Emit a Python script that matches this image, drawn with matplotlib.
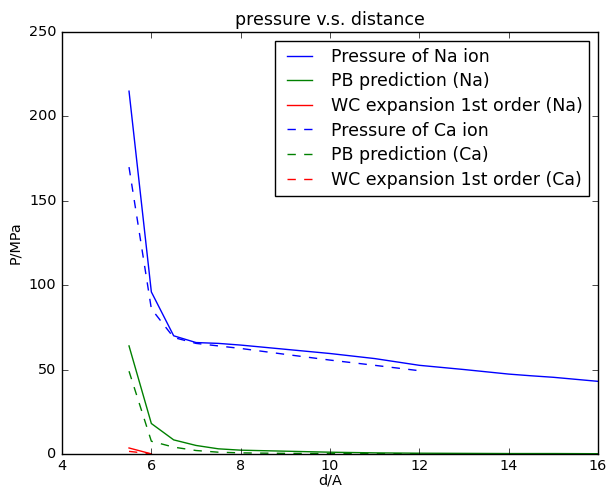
import matplotlib
matplotlib.use("Agg")
import matplotlib.pyplot as plt

plt.style.use('classic')

d_na = [5.5, 6, 6.5, 7, 7.5, 8, 9, 10, 11, 11.5, 12, 13, 14, 14.5, 15, 16]
p_na = [215, 96, 70, 66, 65.5, 64.5, 62, 59.5, 56.5, 54.5, 52.5, 50, 47.3, 46.3, 45.4, 43]
pb_na = [64, 18, 8.3, 5, 3, 2.2, 1.6, 1.0, 0.6, 0.5, 0.4, 0.3, 0.2, 0.2, 0.2, 0.1]
wc_na_d = [5.5, 6]
wc_na = [3.5, 0]

d_ca = [5.5, 6, 6.5, 7, 7.5, 8, 9, 10, 11, 12]
p_ca = [170, 86, 69, 65.5, 64, 62.5, 59, 55.6, 52.5, 49.3]
pb_ca = [49, 7.5, 4, 2, 1, 0.6, 0.3, 0.2, 0.1, 0.1]
wc_ca_d = [5.5, 6]
wc_ca = [1.5, 0]

fig = plt.figure(figsize=(6.08, 4.87), dpi=100)
ax = fig.add_axes([0.102, 0.068, 0.8816, 0.866])
ax.plot(d_na, p_na, 'b-', label='Pressure of Na ion')
ax.plot(d_na, pb_na, 'g-', label='PB prediction (Na)')
ax.plot(wc_na_d, wc_na, 'r-', label='WC expansion 1st order (Na)')
ax.plot(d_ca, p_ca, 'b--', label='Pressure of Ca ion')
ax.plot(d_ca, pb_ca, 'g--', label='PB prediction (Ca)')
ax.plot(wc_ca_d, wc_ca, 'r--', label='WC expansion 1st order (Ca)')
ax.set_xlim(4, 16)
ax.set_ylim(0, 250)
ax.set_xlabel('d/A', fontsize=10.4, labelpad=0)
ax.set_ylabel('P/MPa', fontsize=10.4)
ax.set_title('pressure v.s. distance', fontsize=12.5)
ax.tick_params(labelsize=10.4)
ax.legend(loc='upper right', fontsize=12.5, handlelength=2.0, handletextpad=0.8,
          labelspacing=0.38)
fig.savefig('out.png', dpi=100)
